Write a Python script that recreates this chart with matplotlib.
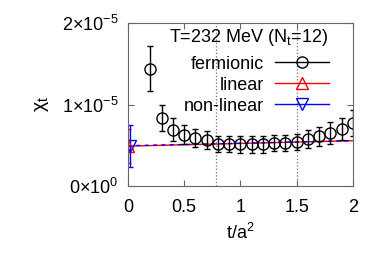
import matplotlib.pyplot as plt
from matplotlib.lines import Line2D
import numpy as np

plt.rcParams['font.family'] = ['Liberation Sans', 'DejaVu Sans']
plt.rcParams['mathtext.fontset'] = 'custom'
plt.rcParams['mathtext.rm'] = 'Liberation Sans'
plt.rcParams['mathtext.it'] = 'Liberation Sans'

# fermionic definition
t_ferm = [0.2, 0.3, 0.4, 0.5, 0.6, 0.7, 0.8, 0.9, 1.0, 1.1, 1.2, 1.3, 1.4,
          1.5, 1.6, 1.7, 1.8, 1.9, 2.0]
chi_ferm = [1.44, 0.83, 0.69, 0.63, 0.59, 0.56, 0.52, 0.52, 0.51, 0.51, 0.51,
            0.53, 0.53, 0.54, 0.58, 0.61, 0.65, 0.70, 0.77]
err_ferm = [0.28, 0.16, 0.14, 0.12, 0.11, 0.11, 0.10, 0.10, 0.10, 0.10, 0.10,
            0.10, 0.10, 0.10, 0.11, 0.12, 0.13, 0.14, 0.16]

# continuum (t -> 0) extrapolations
t_lin, chi_lin, err_lin = 0.0, 0.49, 0.21
t_nl, chi_nl, err_nl = 0.02, 0.495, 0.26

# fit curves
t_fit = [0.0, 0.5, 1.0, 1.5, 2.0]
fit_lin = [0.49, 0.507, 0.523, 0.54, 0.557]
fit_nl = [0.495, 0.51, 0.525, 0.541, 0.556]

t_marks = [0.785, 1.5]

scale = 1e-5

fig = plt.figure(figsize=(3.82, 2.67), dpi=100)
ax = fig.add_axes([0.335, 0.303, 0.589, 0.611])

for tm in t_marks:
    ax.axvline(tm, color='0.45', ls=':', lw=0.9)

ax.plot(t_fit, np.array(fit_lin) * scale, color='red', lw=1.0)
ax.plot(t_fit, np.array(fit_nl) * scale, color='blue', lw=1.0, ls=(0, (3, 3)))

ax.errorbar(t_ferm, np.array(chi_ferm) * scale, yerr=np.array(err_ferm) * scale,
            fmt='o', color='black', mfc='none', ms=8, mew=1.0, elinewidth=1.0,
            capsize=2.5)
ax.errorbar([t_lin], [chi_lin * scale], yerr=[err_lin * scale], fmt='^',
            color='red', mfc='none', ms=9, mew=1.0, elinewidth=1.0, capsize=2.5)
ax.errorbar([t_nl], [chi_nl * scale], yerr=[err_nl * scale], fmt='v',
            color='blue', mfc='none', ms=9, mew=1.0, elinewidth=1.0, capsize=2.5)

ax.set_xlim(0, 2)
ax.set_ylim(0, 2e-5)
ax.set_xticks([0, 0.5, 1, 1.5, 2])
ax.set_xticklabels(['0', '0.5', '1', '1.5', '2'])
ax.set_yticks([0, 1e-5, 2e-5])
ax.set_yticklabels([r'0$\times$10$^{0}$', r'1$\times$10$^{-5}$', r'2$\times$10$^{-5}$'])
ax.tick_params(direction='in', top=True, right=True, labelsize=13, length=4,
               color='0.4')
ax.tick_params(axis='x', pad=9)
ax.tick_params(axis='y', pad=7)
for s in ax.spines.values():
    s.set_color('0.4')

ax.set_xlabel(r't/a$^2$', fontsize=13, labelpad=5)
ax.set_ylabel(r'$\chi_t$', fontsize=14, labelpad=8)

ax.text(0.535, 0.975, r'T=232 MeV (N$_t$=12)', transform=ax.transAxes,
        ha='center', va='top', fontsize=13)

handles = [
    Line2D([], [], color='black', marker='o', mfc='none', ms=8, lw=1.0),
    Line2D([], [], color='red', marker='^', mfc='none', ms=9, lw=1.0),
    Line2D([], [], color='blue', marker='v', mfc='none', ms=9, lw=1.0),
]
ax.legend(handles, ['fermionic', 'linear', 'non-linear'], loc='upper right',
          bbox_to_anchor=(0.895, 0.80), frameon=False, markerfirst=False,
          fontsize=13, handlelength=3.0, handletextpad=0.6, labelspacing=0.22,
          borderpad=0, borderaxespad=0)

fig.savefig('out.png', dpi=100)
